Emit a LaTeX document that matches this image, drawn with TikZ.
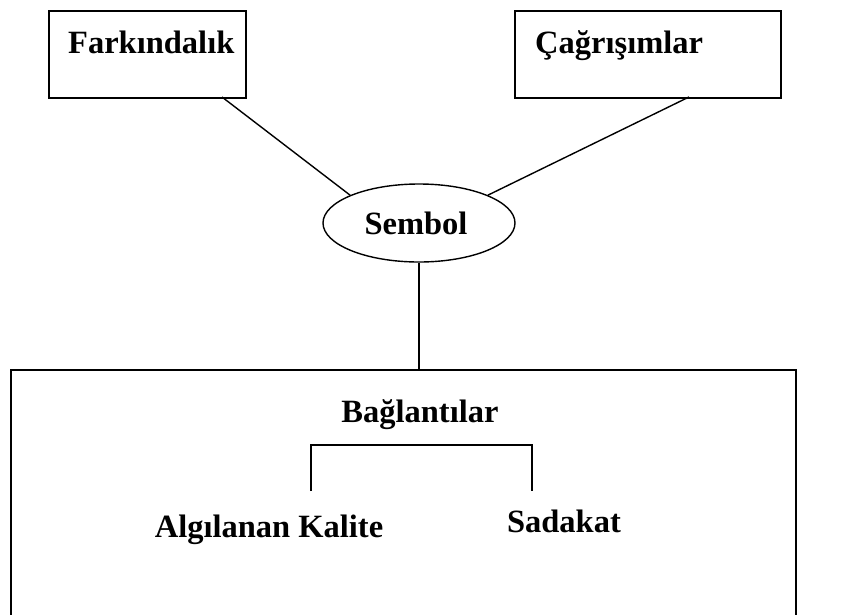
\documentclass[tikz,border=0pt]{standalone}
\usepackage{fontspec}
\setmainfont{Liberation Serif}
\usetikzlibrary{shapes.geometric}
\begin{document}
\begin{tikzpicture}[x=1pt, y=-1pt,
  frame/.style={draw, line width=1.7pt, inner sep=0pt, anchor=north west},
  link/.style={line width=1.4pt},
  lbl/.style={inner sep=0pt, anchor=base, font=\fontsize{32.5}{38}\selectfont\bfseries},
  lblw/.style={lbl, anchor=base west}]
  \useasboundingbox (0,0) rectangle (851,614);

  % top boxes
  \node[frame, minimum width=197pt, minimum height=87pt] (fark) at (48,10) {};
  \node[lblw] (farkt) at (68,53) {Farkındalık};
  \node[frame, minimum width=266pt, minimum height=87pt] (cagr) at (514,10) {};
  \node[lblw] (cagrt) at (535,53) {Çağrışımlar};

  % central ellipse
  \node[draw, ellipse, line width=1.4pt, minimum width=192pt, minimum height=78pt,
        inner sep=0pt] (sembol) at (419,223) {};
  \node[lbl] (sembolt) at (416,234) {Sembol};

  % bottom box, running off the lower edge
  \node[frame, minimum width=785pt, minimum height=260pt] (bag) at (10,369) {};
  \node[lbl] (bagt) at (420,422) {Bağlantılar};
  \node[lbl] (kalite) at (269,537) {Algılanan Kalite};
  \node[lbl] (sadakat) at (564,532) {Sadakat};

  % connector end points on the box edges
  \coordinate (farkfoot) at (222,97);
  \coordinate (cagrfoot) at (689,97);
  \coordinate (bagtop) at (419,369);
  \draw[link] (farkfoot) -- (sembol.158);
  \draw[link] (cagrfoot) -- (sembol.22);
  \draw[link] (sembol.south) -- (bagtop);

  % bracket under the heading
  \coordinate (brl) at (311,491);
  \coordinate (brr) at (532,491);
  \draw[link] (brl) -- ++(0,-46) -| (brr);
\end{tikzpicture}
\end{document}
